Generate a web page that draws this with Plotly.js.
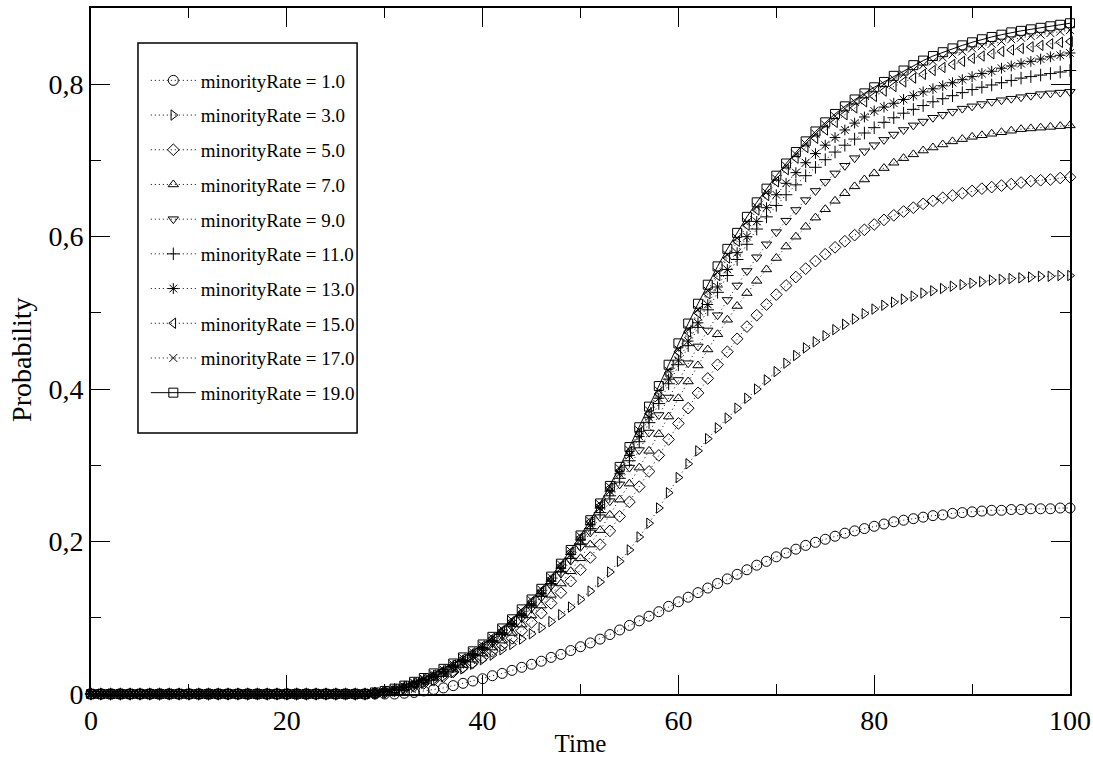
<!DOCTYPE html>
<html>
<head>
<meta charset="utf-8">
<script src="https://cdn.plot.ly/plotly-3.0.1.min.js"></script>
<style>html,body{margin:0;padding:0;background:#fff;}#chart{width:1093px;height:757px;}</style>
</head>
<body>
<div id="chart"></div>
<script>
const time = [0,1,2,3,4,5,6,7,8,9,10,11,12,13,14,15,16,17,18,19,20,21,22,23,24,25,26,27,28,29,30,31,32,33,34,35,36,37,38,39,40,41,42,43,44,45,46,47,48,49,50,51,52,53,54,55,56,57,58,59,60,61,62,63,64,65,66,67,68,69,70,71,72,73,74,75,76,77,78,79,80,81,82,83,84,85,86,87,88,89,90,91,92,93,94,95,96,97,98,99,100];

const rate1 = [0,0,0,0,0,0,0,0,0,0, 0,0,0,0,0,0,0,0,0,0, 0,0,0,0,0,0,0,0,0,
0,0,0,0.001,0.002,0.004,0.006,0.008,0.011,0.014,
0.017,0.020,0.024,0.027,0.031,0.035,0.039,0.043,0.048,0.052,
0.057,0.062,0.067,0.072,0.078,0.084,0.090,0.096,0.102,0.108,
0.115,0.121,0.127,0.133,0.139,0.145,0.151,0.157,0.163,0.169,
0.174,0.180,0.185,0.190,0.195,0.199,0.203,0.207,0.211,0.214,
0.217,0.220,0.223,0.226,0.228,0.230,0.232,0.234,0.235,0.237,
0.238,0.239,0.240,0.241,0.241,0.242,0.242,0.243,0.243,0.243,
0.244,0.244];

const rate3 = [0,0,0,0,0,0,0,0,0,0, 0,0,0,0,0,0,0,0,0,0, 0,0,0,0,0,0,0,0,0,
0.001,0.002,0.004,0.007,0.010,0.014,0.018,0.023,0.028,0.033,
0.039,0.045,0.051,0.058,0.065,0.072,0.079,0.087,0.095,0.104,
0.114,0.124,0.135,0.147,0.160,0.174,0.189,0.206,0.224,0.244,
0.264,0.284,0.302,0.319,0.335,0.349,0.362,0.375,0.388,0.400,
0.412,0.423,0.434,0.444,0.454,0.462,0.470,0.478,0.485,0.492,
0.499,0.505,0.510,0.514,0.518,0.522,0.526,0.529,0.532,0.535,
0.537,0.539,0.541,0.543,0.544,0.545,0.546,0.547,0.548,0.548,
0.549,0.549];

const rate5 = [0,0,0,0,0,0,0,0,0,0, 0,0,0,0,0,0,0,0,0,0, 0,0,0,0,0,0,0,0,0,
0.001,0.002,0.004,0.007,0.010,0.014,0.018,0.023,0.029,0.035,
0.041,0.048,0.056,0.064,0.073,0.083,0.094,0.106,0.119,0.133,
0.148,0.163,0.179,0.196,0.214,0.233,0.252,0.272,0.292,0.313,
0.334,0.355,0.375,0.395,0.414,0.432,0.449,0.466,0.482,0.497,
0.511,0.524,0.536,0.547,0.558,0.568,0.577,0.586,0.594,0.602,
0.609,0.616,0.622,0.628,0.633,0.638,0.643,0.647,0.651,0.654,
0.657,0.660,0.663,0.665,0.667,0.669,0.671,0.673,0.674,0.675,
0.677,0.678];

const rate7 = [0,0,0,0,0,0,0,0,0,0, 0,0,0,0,0,0,0,0,0,0, 0,0,0,0,0,0,0,0,0,
0.001,0.003,0.005,0.008,0.012,0.016,0.021,0.026,0.032,0.038,
0.045,0.053,0.061,0.070,0.080,0.091,0.103,0.116,0.130,0.145,
0.161,0.178,0.196,0.215,0.235,0.255,0.276,0.297,0.319,0.341,
0.364,0.388,0.410,0.431,0.452,0.472,0.491,0.509,0.526,0.542,
0.557,0.572,0.587,0.600,0.613,0.625,0.636,0.647,0.657,0.666,
0.675,0.683,0.690,0.697,0.703,0.708,0.713,0.717,0.721,0.725,
0.728,0.731,0.733,0.735,0.737,0.739,0.741,0.742,0.743,0.744,
0.745,0.746];

const rate9 = [0,0,0,0,0,0,0,0,0,0, 0,0,0,0,0,0,0,0,0,0, 0,0,0,0,0,0,0,0,0,
0.001,0.003,0.006,0.009,0.013,0.018,0.023,0.029,0.035,0.042,
0.050,0.058,0.067,0.077,0.088,0.100,0.113,0.127,0.142,0.158,
0.175,0.193,0.212,0.232,0.253,0.275,0.297,0.320,0.343,0.366,
0.389,0.412,0.434,0.456,0.477,0.497,0.517,0.536,0.555,0.573,
0.590,0.606,0.621,0.635,0.648,0.660,0.672,0.683,0.693,0.703,
0.712,0.720,0.727,0.734,0.740,0.746,0.751,0.756,0.760,0.764,
0.768,0.771,0.774,0.777,0.779,0.781,0.783,0.785,0.787,0.788,
0.789,0.790];

const rate11 = [0,0,0,0,0,0,0,0,0,0, 0,0,0,0,0,0,0,0,0,0, 0,0,0,0,0,0,0,0,0,
0.001,0.003,0.006,0.009,0.013,0.018,0.023,0.029,0.036,0.043,
0.051,0.059,0.068,0.078,0.089,0.101,0.114,0.128,0.143,0.160,
0.178,0.197,0.217,0.238,0.260,0.283,0.306,0.331,0.356,0.381,
0.407,0.432,0.457,0.481,0.504,0.527,0.549,0.570,0.590,0.610,
0.626,0.641,0.655,0.668,0.680,0.691,0.701,0.711,0.720,0.728,
0.736,0.743,0.750,0.756,0.762,0.767,0.772,0.777,0.781,0.785,
0.789,0.793,0.796,0.799,0.802,0.805,0.808,0.810,0.812,0.814,
0.816,0.818];

const rate13 = [0,0,0,0,0,0,0,0,0,0, 0,0,0,0,0,0,0,0,0,0, 0,0,0,0,0,0,0,0,0,
0.001,0.003,0.006,0.009,0.014,0.019,0.024,0.030,0.037,0.044,
0.052,0.061,0.070,0.080,0.092,0.104,0.117,0.132,0.148,0.165,
0.183,0.202,0.222,0.244,0.266,0.289,0.313,0.338,0.363,0.388,
0.413,0.438,0.463,0.487,0.511,0.534,0.557,0.579,0.600,0.620,
0.638,0.655,0.670,0.684,0.697,0.709,0.720,0.730,0.740,0.749,
0.757,0.765,0.770,0.775,0.780,0.785,0.790,0.794,0.798,0.802,
0.806,0.810,0.814,0.817,0.821,0.824,0.827,0.830,0.833,0.836,
0.838,0.841];

const rate15 = [0,0,0,0,0,0,0,0,0,0, 0,0,0,0,0,0,0,0,0,0, 0,0,0,0,0,0,0,0,0,
0.001,0.003,0.006,0.010,0.014,0.019,0.025,0.031,0.038,0.046,
0.054,0.063,0.073,0.083,0.095,0.107,0.121,0.135,0.151,0.168,
0.186,0.205,0.226,0.247,0.270,0.293,0.318,0.343,0.368,0.394,
0.421,0.449,0.475,0.500,0.525,0.549,0.572,0.594,0.615,0.635,
0.654,0.672,0.688,0.703,0.717,0.729,0.740,0.750,0.760,0.769,
0.777,0.784,0.791,0.797,0.803,0.808,0.813,0.818,0.822,0.826,
0.830,0.834,0.837,0.840,0.843,0.845,0.847,0.849,0.851,0.853,
0.855,0.856];

const rate17 = [0,0,0,0,0,0,0,0,0,0, 0,0,0,0,0,0,0,0,0,0, 0,0,0,0,0,0,0,0,0,
0.001,0.003,0.006,0.010,0.015,0.020,0.026,0.032,0.039,0.047,
0.055,0.064,0.074,0.085,0.097,0.109,0.123,0.137,0.153,0.170,
0.188,0.207,0.227,0.249,0.272,0.296,0.320,0.346,0.372,0.398,
0.424,0.452,0.478,0.504,0.529,0.553,0.576,0.598,0.619,0.639,
0.658,0.676,0.693,0.708,0.722,0.735,0.747,0.758,0.768,0.777,
0.786,0.793,0.800,0.807,0.813,0.819,0.825,0.830,0.835,0.839,
0.843,0.847,0.850,0.853,0.856,0.859,0.861,0.863,0.865,0.867,
0.869,0.871];

const rate19 = [0,0,0,0,0,0,0,0,0,0, 0,0,0,0,0,0,0,0,0,0, 0,0,0,0,0,0,0,0,0,
0.002,0.004,0.007,0.011,0.016,0.021,0.027,0.033,0.040,0.048,
0.056,0.065,0.075,0.086,0.098,0.111,0.124,0.138,0.154,0.171,
0.189,0.208,0.228,0.250,0.273,0.298,0.324,0.350,0.377,0.404,
0.432,0.460,0.486,0.512,0.537,0.561,0.584,0.605,0.626,0.645,
0.663,0.680,0.696,0.711,0.725,0.738,0.750,0.761,0.771,0.780,
0.788,0.796,0.803,0.811,0.818,0.825,0.831,0.837,0.842,0.847,
0.851,0.855,0.859,0.862,0.865,0.868,0.870,0.872,0.874,0.876,
0.878,0.880];

const seriesNames = ["minorityRate = 1.0","minorityRate = 3.0","minorityRate = 5.0","minorityRate = 7.0","minorityRate = 9.0","minorityRate = 11.0","minorityRate = 13.0","minorityRate = 15.0","minorityRate = 17.0","minorityRate = 19.0"];
const seriesValues = [rate1, rate3, rate5, rate7, rate9, rate11, rate13, rate15, rate17, rate19];
const symbols = ["circle-open","triangle-right-open","diamond-open","triangle-up-open","triangle-down-open","cross-thin-open","asterisk-open","triangle-left-open","x-thin-open","square-open"];
const sizes = [10,9,9,9,9,9,9,9,8,9];
const dashes = ["1px,3px","1px,3px","1px,3px","1px,3px","1px,3px","1px,3px","1px,3px","1px,3px","1px,3px","solid"];

const xTitle = "Time";
const yTitle = "Probability";

const FONT = "Liberation Serif, Times New Roman, serif";

const traces = seriesNames.map((name, i) => ({
  type: "scatter",
  mode: "lines+markers",
  name: name,
  x: time,
  y: seriesValues[i],
  cliponaxis: false,
  legendgroup: "g" + i,
  line: {color: "black", width: 1, dash: dashes[i]},
  marker: {symbol: symbols[i], size: sizes[i], color: "black", line: {color: "black", width: 1}}
}));

const axisCommon = {
  showgrid: false,
  zeroline: false,
  showline: true,
  linecolor: "black",
  linewidth: 2,
  mirror: "ticks",
  ticks: "inside",
  ticklen: 19,
  tickwidth: 1,
  tickcolor: "black",
  tickfont: {family: FONT, size: 28, color: "black"}
};

const layout = {
  width: 1093,
  height: 757,
  margin: {l: 91, r: 23, t: 8, b: 63},
  paper_bgcolor: "white",
  plot_bgcolor: "white",
  separators: ", ",
  showlegend: true,
  font: {family: FONT, color: "black"},
  xaxis: Object.assign({}, axisCommon, {
    range: [0, 100],
    tick0: 0,
    dtick: 20,
    minor: {dtick: 10, ticks: "inside", ticklen: 10, tickwidth: 1, tickcolor: "black", showgrid: false},
    title: {text: xTitle, font: {family: FONT, size: 25, color: "black"}, standoff: 2}
  }),
  yaxis: Object.assign({}, axisCommon, {
    range: [0, 0.9],
    tick0: 0,
    dtick: 0.2,
    minor: {dtick: 0.1, ticks: "inside", ticklen: 10, tickwidth: 1, tickcolor: "black", showgrid: false}
  }),
  annotations: [{
    text: yTitle, xref: "paper", yref: "paper",
    x: -0.0705, y: 0.487, xanchor: "center", yanchor: "middle",
    textangle: -90, showarrow: false,
    font: {family: FONT, size: 28, color: "black"}
  }],
  shapes: [{
    type: "rect", xref: "paper", yref: "paper",
    x0: 0.048, x1: 0.2718, y0: 0.3805, y1: 0.949,
    line: {color: "black", width: 1.5}, fillcolor: "rgba(0,0,0,0)", layer: "above"
  }],
  legend: {
    x: 0.056, y: 0.922, xanchor: "left", yanchor: "top",
    bgcolor: "rgba(0,0,0,0)",
    borderwidth: 0,
    traceorder: "grouped",
    tracegroupgap: 7,
    itemwidth: 45,
    font: {family: FONT, size: 19, color: "black"}
  }
};

Plotly.newPlot("chart", traces, layout, {displayModeBar: false, staticPlot: true});
</script>
</body>
</html>
